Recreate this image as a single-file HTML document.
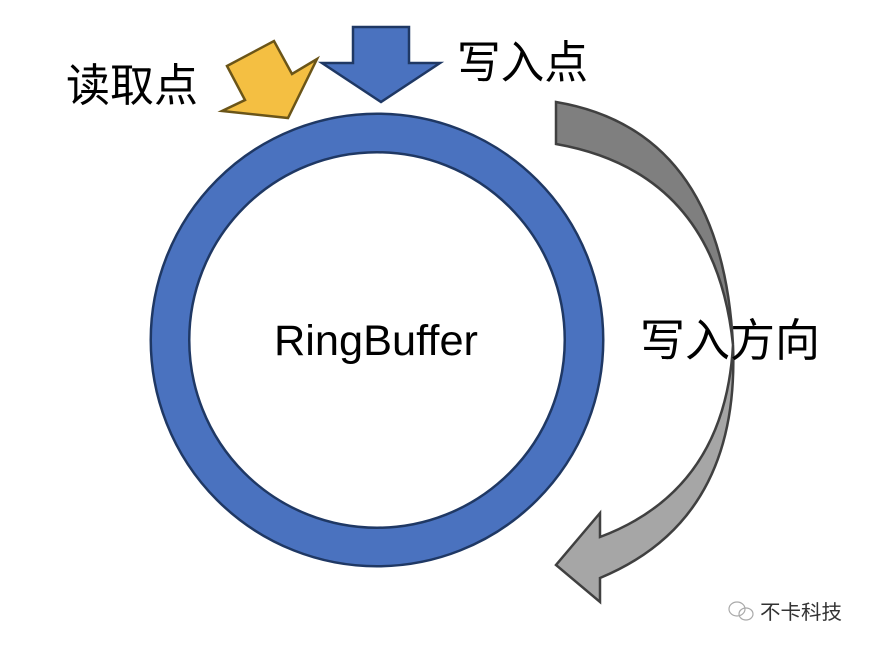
<!DOCTYPE html>
<html><head><meta charset="utf-8"><style>
body{margin:0;background:#fff;width:870px;height:652px;overflow:hidden}
text{font-family:"Liberation Sans","Noto Sans CJK SC",sans-serif}
</style></head><body>
<svg width="870" height="652" viewBox="0 0 870 652" xmlns="http://www.w3.org/2000/svg">
<circle cx="377" cy="340" r="207" fill="none" stroke="#1f3864" stroke-width="41"/>
<circle cx="377" cy="340" r="207" fill="none" stroke="#4a72bf" stroke-width="36"/>
<polygon points="227,66 274,41 292,74 317,59 288,118 222,111 245,100" fill="#f4bf42" stroke="#6b5518" stroke-width="2.5" stroke-linejoin="miter"/>
<polygon points="353,27 409,27 409,63 440,63 381,102 322,63 353,63" fill="#4a72bf" stroke="#1f3864" stroke-width="2.5"/>
<path d="M733,345 Q740,520 600,578 L600,602 L556,565 L600,513 L600,537 Q725,490 733,345 Z" fill="#a6a6a6" stroke="#404040" stroke-width="2.5" stroke-linejoin="miter"/>
<path d="M556,102 Q722,130 733,345 Q715,172 556,144 Z" fill="#7f7f7f" stroke="#404040" stroke-width="2.5"/>
<text x="274" y="355" font-size="43" textLength="204" lengthAdjust="spacingAndGlyphs" fill="#000">RingBuffer</text>
<text x="66" y="101" font-size="45" textLength="132" lengthAdjust="spacingAndGlyphs" fill="#000">读取点</text>
<text x="457" y="78" font-size="45" textLength="131" lengthAdjust="spacingAndGlyphs" fill="#000">写入点</text>
<text x="640" y="356" font-size="45" textLength="180" lengthAdjust="spacingAndGlyphs" fill="#000">写入方向</text>
<g fill="none" stroke="#aaa" stroke-width="1.2"><ellipse cx="737" cy="609" rx="8" ry="7"/><ellipse cx="746" cy="614" rx="7" ry="6"/></g>
<text x="760" y="619" font-size="20" textLength="82" lengthAdjust="spacingAndGlyphs" fill="#333">不卡科技</text>
</svg>
</body></html>
